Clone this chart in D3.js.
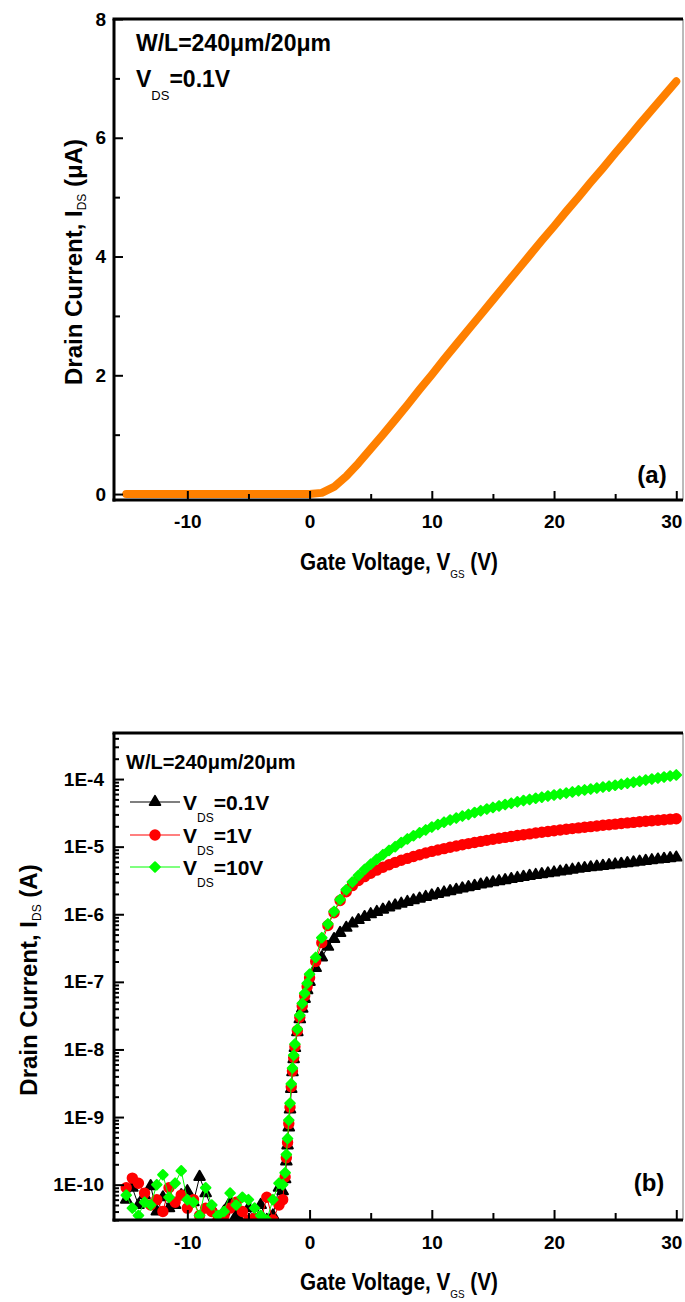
<!DOCTYPE html>
<html>
<head>
<meta charset="utf-8">
<script src="https://cdn.jsdelivr.net/npm/d3@7"></script>
<style>
  body { margin: 0; background: #fff; }
  svg text { font-family: "Liberation Sans", Arial, sans-serif; font-weight: bold; fill: #000; white-space: pre; }
</style>
</head>
<body>
<svg id="fig" width="685" height="1302"></svg>
<script>
// ---------- panel (a): linear transfer curve, VDS = 0.1 V ----------
const gateA = [-15,-14,-13,-12,-11,-10,-9,-8,-7,-6,-5,-4,-3,-2,-1,0,
  1,2,3,4,5,6,7,8,9,10,11,12,13,14,15,16,17,18,19,20,21,22,23,24,25,26,27,28,29,30];
const drainA = [0,0,0,0,0,0,0,0,0,0,0,0,0,0,0,0,
  0.02,0.12,0.30,0.52,0.76,1.00,1.25,1.50,1.76,2.01,2.27,2.52,2.77,3.02,3.27,3.52,3.77,4.02,4.27,4.51,
  4.76,5.00,5.25,5.49,5.74,5.98,6.23,6.47,6.71,6.95]; // µA

const xTicks = [-10, 0, 10, 20, 30];
const xMinor = [-5, 5, 15, 25];
const yTicksA = [0, 2, 4, 6, 8];
const yMinorA = [1, 3, 5, 7];

// ---------- panel (b): log transfer curves for three drain biases ----------
const gateB = [-15,-14.5,-14,-13.5,-13,-12.5,-12,-11.5,-11,-10.5,-10,-9.5,-9,-8.5,-8,-7.5,-7,-6.5,-6,-5.5,-5,-4.5,-4,-3.5,-3,-2.5,
  -2.2,-2.0,-1.9,-1.8,-1.7,-1.6,-1.5,-1.4,-1.3,-1.2,-1.0,-0.8,-0.6,-0.4,-0.2,0,0.5,
  1,1.5,2,2.5,3,3.5,4,4.5,5,5.5,6,6.5,7,7.5,8,8.5,9,9.5,10,10.5,11,11.5,12,12.5,13,13.5,14,14.5,15,15.5,
  16,16.5,17,17.5,18,18.5,19,19.5,20,20.5,21,21.5,22,22.5,23,23.5,24,24.5,25,25.5,26,26.5,27,27.5,28,28.5,29,29.5,30];

const drainVds01 = [6e-11,9e-11,5e-11,7e-11,9.5e-11,4e-11,6.5e-11,4.5e-11,5e-11,7e-11,8e-11,5.5e-11,1.3e-10,7.5e-11,4.5e-11,3e-11,4e-11,5.5e-11,3.5e-11,2.6e-11,4.5e-11,3e-11,5e-11,3e-11,3.5e-11,9e-11,
  8e-11,1.2e-10,2.2e-10,3.8e-10,7e-10,1.3e-9,2.6e-9,4.6e-9,7.2e-9,1.05e-8,1.8e-8,2.8e-8,4e-8,5.6e-8,7.5e-8,1.0e-7,1.6e-7,
  0.23e-6,0.33e-6,0.43e-6,0.53e-6,0.63e-6,0.73e-6,0.82e-6,0.91e-6,1.0e-6,1.08e-6,1.17e-6,1.26e-6,1.35e-6,1.43e-6,1.52e-6,1.61e-6,1.7e-6,1.8e-6,1.9e-6,2.0e-6,2.1e-6,2.2e-6,2.3e-6,2.41e-6,2.52e-6,2.63e-6,2.75e-6,2.86e-6,2.97e-6,3.08e-6,
  3.2e-6,3.32e-6,3.44e-6,3.57e-6,3.7e-6,3.81e-6,3.92e-6,4.03e-6,4.15e-6,4.28e-6,4.42e-6,4.56e-6,4.7e-6,4.82e-6,4.95e-6,5.07e-6,5.2e-6,5.32e-6,5.45e-6,5.57e-6,5.7e-6,5.85e-6,6.0e-6,6.15e-6,6.3e-6,6.45e-6,6.6e-6,6.75e-6,6.9e-6];

const drainVds1 = [9e-11,1.25e-10,1.05e-10,7.5e-11,5e-11,6e-11,4e-11,9e-11,5.5e-11,7e-11,4.5e-11,6e-11,3.5e-11,4.5e-11,4e-11,3e-11,3.5e-11,4.5e-11,5.5e-11,4e-11,3e-11,3.2e-11,2.8e-11,6.5e-11,3e-11,5e-11,
  6e-11,1.3e-10,2.5e-10,4.2e-10,8e-10,1.4e-9,2.8e-9,4.8e-9,7.6e-9,1.1e-8,1.9e-8,3.0e-8,4.4e-8,6.2e-8,8.5e-8,1.15e-7,2.0e-7,
  0.38e-6,0.68e-6,1.05e-6,1.6e-6,2.15e-6,2.65e-6,3.15e-6,3.6e-6,4.05e-6,4.5e-6,4.95e-6,5.4e-6,5.85e-6,6.3e-6,6.7e-6,7.15e-6,7.6e-6,8.05e-6,8.5e-6,8.9e-6,9.35e-6,9.8e-6,10.2e-6,10.65e-6,11.1e-6,11.5e-6,11.95e-6,12.4e-6,12.85e-6,13.3e-6,
  13.7e-6,14.15e-6,14.6e-6,15.0e-6,15.45e-6,15.9e-6,16.3e-6,16.75e-6,17.2e-6,17.65e-6,18.1e-6,18.5e-6,18.95e-6,19.4e-6,19.8e-6,20.25e-6,20.7e-6,21.1e-6,21.55e-6,22.0e-6,22.45e-6,22.85e-6,23.3e-6,23.75e-6,24.2e-6,24.6e-6,25.05e-6,25.5e-6,25.9e-6];

const drainVds10 = [7e-11,4.5e-11,3.5e-11,5.5e-11,5e-11,1e-10,1.4e-10,6.5e-11,1.05e-10,1.6e-10,6e-11,5.5e-11,3.5e-11,9e-11,5e-11,3.5e-11,4e-11,7.5e-11,5e-11,6.5e-11,6e-11,4.5e-11,3.5e-11,3e-11,6e-11,1.05e-10,
  1e-10,1.5e-10,2.8e-10,4.8e-10,9e-10,1.6e-9,3.1e-9,5.3e-9,8.2e-9,1.2e-8,2.0e-8,3.2e-8,4.8e-8,6.8e-8,9.5e-8,1.3e-7,2.3e-7,
  0.45e-6,0.72e-6,1.1e-6,1.65e-6,2.3e-6,3.0e-6,3.75e-6,4.6e-6,5.5e-6,6.5e-6,7.6e-6,8.8e-6,10.0e-6,11.5e-6,13.0e-6,14.5e-6,16.0e-6,17.7e-6,19.5e-6,21.2e-6,23.0e-6,24.8e-6,26.5e-6,28.3e-6,30.0e-6,32.0e-6,34.0e-6,36.0e-6,38.0e-6,40.0e-6,
  42.0e-6,44.0e-6,46.0e-6,48.0e-6,50.0e-6,52.0e-6,54.0e-6,56.0e-6,58.0e-6,60.0e-6,62.0e-6,64.5e-6,67.0e-6,69.0e-6,71.0e-6,73.5e-6,76.0e-6,78.5e-6,81.0e-6,84.0e-6,87.0e-6,90.0e-6,93.0e-6,96.5e-6,100e-6,103.5e-6,107e-6,111e-6,115e-6];

const decadesB = [1e-10, 1e-9, 1e-8, 1e-7, 1e-6, 1e-5, 1e-4];
const seriesNames = ["=0.1V", "=1V", "=10V"];

// ---------- layout ----------
const svg = d3.select("#fig");
const L = 114, R = 683;
const A = { top: 19, bottom: 500 };
const B = { top: 733, bottom: 1220 };

const x = d3.scaleLinear().domain([-16, 30.55]).range([L, R]);
const yA = d3.scaleLinear().domain([-0.1, 8]).range([A.bottom, A.top]);
const yB = d3.scaleLog().domain([3e-11, 4.8e-4]).range([B.bottom, B.top]);

const defs = svg.append("defs");
[["clipA", A], ["clipB", B]].forEach(([id, p]) => {
  defs.append("clipPath").attr("id", id).append("rect")
    .attr("x", L).attr("y", p.top).attr("width", R - L).attr("height", p.bottom - p.top);
});

// text with a subscript part: parts = [[text], [text, true], ...]
function rich(parent, parts, o) {
  const t = parent.append("text").attr("font-size", o.size).attr("text-anchor", o.anchor || "start");
  let down = false;
  parts.forEach(p => {
    const ts = t.append("tspan").text(p[0]);
    if (p[1]) { ts.attr("font-size", o.sub).attr("font-weight", "normal").attr("dy", o.drop); down = true; }
    else if (down) { ts.attr("dy", -o.drop); down = false; }
  });
  return t;
}

function styleAxis(g, size) {
  g.attr("font-family", null).attr("font-size", null);
  g.select(".domain").remove();
  g.selectAll(".tick line").attr("stroke", "#000").attr("stroke-width", 2);
  g.selectAll(".tick text").attr("font-size", size);
  // keep the right-most label inside the page
  g.selectAll(".tick text").filter(d => d === 30).attr("dx", -5);
}

function frame(p) {
  const f = svg.append("g");
  f.append("line").attr("x1", R).attr("x2", R).attr("y1", p.top).attr("y2", p.bottom)
    .attr("stroke", "#777").attr("stroke-width", 1);
  f.append("line").attr("x1", L - 1.5).attr("x2", R).attr("y1", p.top).attr("y2", p.top)
    .attr("stroke", "#000").attr("stroke-width", 3);
  f.append("line").attr("x1", L).attr("x2", L).attr("y1", p.top).attr("y2", p.bottom + 1.5)
    .attr("stroke", "#000").attr("stroke-width", 3);
  f.append("line").attr("x1", L - 1.5).attr("x2", R).attr("y1", p.bottom).attr("y2", p.bottom)
    .attr("stroke", "#000").attr("stroke-width", 3);
}

// ---------- panel (a) ----------
const gA = svg.append("g");
gA.append("path")
  .datum(gateA.map((v, i) => [v, drainA[i]]))
  .attr("clip-path", "url(#clipA)")
  .attr("fill", "none").attr("stroke", "#ff8000").attr("stroke-width", 8)
  .attr("stroke-linecap", "round").attr("stroke-linejoin", "round")
  .attr("d", d3.line().x(d => x(d[0])).y(d => yA(d[1])));

frame(A);

svg.append("g").attr("transform", `translate(0,${A.bottom})`)
  .call(d3.axisBottom(x).tickValues(xTicks).tickSize(-9).tickPadding(14.5).tickFormat(d => String(d)))
  .call(g => styleAxis(g, 19));
svg.append("g").attr("transform", `translate(0,${A.bottom})`)
  .call(d3.axisBottom(x).tickValues(xMinor).tickSize(-6).tickFormat(""))
  .call(g => styleAxis(g, 19));
svg.append("g").attr("transform", `translate(${L},0)`)
  .call(d3.axisLeft(yA).tickValues(yTicksA).tickSize(-9).tickPadding(8).tickFormat(d => String(d)))
  .call(g => styleAxis(g, 19));
svg.append("g").attr("transform", `translate(${L},0)`)
  .call(d3.axisLeft(yA).tickValues(yMinorA).tickSize(-6).tickFormat(""))
  .call(g => styleAxis(g, 19));

rich(svg.append("g").attr("transform", "translate(136,51)"),
  [["W/L=240μm/20μm"]], { size: 23 });
rich(svg.append("g").attr("transform", "translate(136,87)"),
  [["V"], ["DS", true], ["=0.1V"]], { size: 23, sub: 13, drop: 13 });
svg.append("text").attr("x", 652).attr("y", 483).attr("text-anchor", "middle")
  .attr("font-size", 24).text("(a)");

rich(svg.append("g").attr("transform", "translate(399,570) scale(0.9,1)"),
  [["Gate Voltage, V"], ["GS", true], [" (V)"]], { size: 23, sub: 11, drop: 8, anchor: "middle" });
rich(svg.append("g").attr("transform", "translate(82,262) rotate(-90)"),
  [["Drain Current, I"], ["DS", true], [" (μA)"]], { size: 24, sub: 12, drop: 4, anchor: "middle" });

// ---------- panel (b) ----------
const gB = svg.append("g").attr("clip-path", "url(#clipB)");
const series = [
  { vals: drainVds01, color: "#000000", sym: "tri" },
  { vals: drainVds1, color: "#ff0000", sym: "circ" },
  { vals: drainVds10, color: "#00ff00", sym: "diam" }
];
function marker(sel, sym, color) {
  let m;
  if (sym === "tri") m = sel.append("path").attr("d", d3.symbol(d3.symbolTriangle, 48)());
  else if (sym === "circ") m = sel.append("circle").attr("r", 4.7);
  else m = sel.append("path").attr("d", d3.symbol(d3.symbolSquare, 46)()).attr("transform", "rotate(45)");
  m.attr("fill", color).attr("stroke", color).attr("stroke-width", 2).attr("stroke-linejoin", "round");
}
series.forEach(s => {
  const pts = gateB.map((v, i) => [v, s.vals[i]]);
  gB.append("path").datum(pts)
    .attr("fill", "none").attr("stroke", s.color).attr("stroke-width", 1)
    .attr("d", d3.line().x(d => x(d[0])).y(d => yB(d[1])));
  gB.append("g").selectAll("g").data(pts).join("g")
    .attr("transform", d => `translate(${x(d[0])},${yB(d[1])})`)
    .each(function () { marker(d3.select(this), s.sym, s.color); });
});

frame(B);

svg.append("g").attr("transform", `translate(0,${B.bottom})`)
  .call(d3.axisBottom(x).tickValues(xTicks).tickSize(-10).tickPadding(15.5).tickFormat(d => String(d)))
  .call(g => styleAxis(g, 19));
svg.append("g").attr("transform", `translate(0,${B.bottom})`)
  .call(d3.axisBottom(x).tickValues(xMinor).tickSize(-7).tickFormat(""))
  .call(g => styleAxis(g, 19));

const minorB = [];
for (let k = -11; k <= -4; k++) for (let m = 2; m <= 9; m++) {
  const v = m * Math.pow(10, k);
  if (v >= 3e-11 && v <= 4.8e-4) minorB.push(v);
}
svg.append("g").attr("transform", `translate(${L},0)`)
  .call(d3.axisLeft(yB).tickValues(decadesB).tickSize(-10).tickPadding(10)
    .tickFormat(d => "1E" + Math.round(Math.log10(d))))
  .call(g => styleAxis(g, 19));
svg.append("g").attr("transform", `translate(${L},0)`)
  .call(d3.axisLeft(yB).tickValues(minorB).tickSize(-5).tickFormat(""))
  .call(g => styleAxis(g, 19));

rich(svg.append("g").attr("transform", "translate(126,769)"),
  [["W/L=240μm/20μm"]], { size: 20 });

// legend
const legY = [802, 835, 867];
series.forEach((s, i) => {
  const lg = svg.append("g").attr("transform", `translate(0,${legY[i]})`);
  lg.append("line").attr("x1", 130).attr("x2", 180).attr("y1", 0).attr("y2", 0)
    .attr("stroke", s.color).attr("stroke-width", 1.2);
  marker(lg.append("g").attr("transform", "translate(155,0)"), s.sym, s.color);
  rich(lg.append("g").attr("transform", "translate(183,8)"),
    [["V"], ["DS", true], [seriesNames[i]]], { size: 21, sub: 12, drop: 12 });
});

svg.append("text").attr("x", 649).attr("y", 1191).attr("text-anchor", "middle")
  .attr("font-size", 24).text("(b)");

rich(svg.append("g").attr("transform", "translate(399,1290) scale(0.9,1)"),
  [["Gate Voltage, V"], ["GS", true], [" (V)"]], { size: 23, sub: 11, drop: 8, anchor: "middle" });
rich(svg.append("g").attr("transform", "translate(37,980) rotate(-90)"),
  [["Drain Current, I"], ["DS", true], [" (A)"]], { size: 24, sub: 12, drop: 4, anchor: "middle" });
</script>
</body>
</html>
